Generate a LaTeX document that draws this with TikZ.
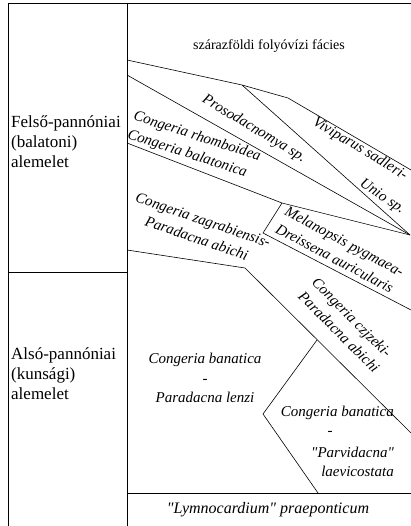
\documentclass[tikz,border=0pt]{standalone}
\usepackage{fontspec}
\setmainfont{Liberation Serif}
\usetikzlibrary{positioning}
\begin{document}
\begin{tikzpicture}[x=1pt, y=-1pt,
  unitnode/.style={font=\fontsize{17}{20}\selectfont, align=left, anchor=west, inner sep=0pt},
  faunanode/.style={font=\fontsize{15}{19.5}\selectfont\itshape, inner sep=0pt},
  facnode/.style={font=\fontsize{14}{19}\selectfont, inner sep=0pt},
  frameline/.style={line width=0.9pt},
  zoneline/.style={line width=0.6pt},
]
\useasboundingbox (0,0) rectangle (411,526);
\coordinate (tl) at (8,3); \coordinate (tr) at (411,3); \coordinate (bl) at (8,526);
\coordinate (ct) at (127,3); \coordinate (cb) at (127,526);
\coordinate (ml) at (8,272); \coordinate (mr) at (127,272);
\coordinate (bot1) at (127,493); \coordinate (bot2) at (411,493);
\coordinate (a0) at (127,60); \coordinate (a1) at (242,85); \coordinate (a2) at (288,98); \coordinate (a3) at (411,170);
\coordinate (c0) at (127,75); \coordinate (p) at (410,235);
\coordinate (d0) at (127,143); \coordinate (m1) at (282,203); \coordinate (m2) at (263,233); \coordinate (m3) at (411,310);
\coordinate (e0) at (127,250); \coordinate (e1) at (245,268); \coordinate (e2) at (411,433);
\coordinate (j) at (317,340); \coordinate (f1) at (263,414); \coordinate (f2) at (318,493);
\draw[frameline] (bl) -- (tl) -- (tr); \draw[frameline] (ct) -- (cb); \draw[frameline] (ml) -- (mr); \draw[frameline] (bot1) -- (bot2);
\draw[zoneline] (a0) -- (a1) -- (a2) -- (a3); \draw[zoneline] (a1) -- (p); \draw[zoneline] (c0) -- (p);
\draw[zoneline] (d0) -- (m1) -- (p); \draw[zoneline] (m1) -- (m2) -- (m3);
\draw[zoneline] (e0) -- (e1) -- (e2); \draw[zoneline] (j) -- (f1) -- (f2);
\node[unitnode] (felso) at (11,142) {Felső-pannóniai\\(balatoni)\\alemelet};
\node[unitnode] (also) at (11,374) {Alsó-pannóniai\\(kunsági)\\alemelet};
\node[facnode] (facies) at (269,46) {szárazföldi folyóvízi fácies};
\node[faunanode, rotate=-31] (proso) at (254,129) {Prosodacnomya sp.};
\node[faunanode, rotate=-31] (vivi) at (360,149) {Viviparus sadleri-};
\node[faunanode, rotate=-34] (unio) at (382,197) {Unio sp.};
\node[faunanode, rotate=-18, align=left] (rhomb) at (194,146) {Congeria rhomboidea\\Congeria balatonica};
\node[faunanode, rotate=-19, align=center] (zagr) at (200,229) {Congeria zagrabiensis-\\Paradacna abichi};
\node[faunanode, rotate=-28, align=left] (melan) at (340,250) {Melanopsis pygmaea-\\Dreissena auricularis};
\node[faunanode, rotate=-45, align=left] (czjz) at (346,325) {Congeria czjzeki-\\Paradacna abichi};
\node[faunanode, align=center] (banat) at (205,378) {Congeria banatica\\-\\Paradacna lenzi};
\node[faunanode, anchor=east] (banat2) at (394,413) {Congeria banatica};
\node[faunanode] (dash2) at (330,433) {-};
\node[faunanode, anchor=east, align=right] (parvi) at (394,462) {\textquotedbl Parvidacna\textquotedbl\\laevicostata};
\node[faunanode, font=\fontsize{16}{19.5}\selectfont\itshape] (lymno) at (268,510) {\textquotedbl Lymnocardium\textquotedbl{} praeponticum};
\end{tikzpicture}
\end{document}
